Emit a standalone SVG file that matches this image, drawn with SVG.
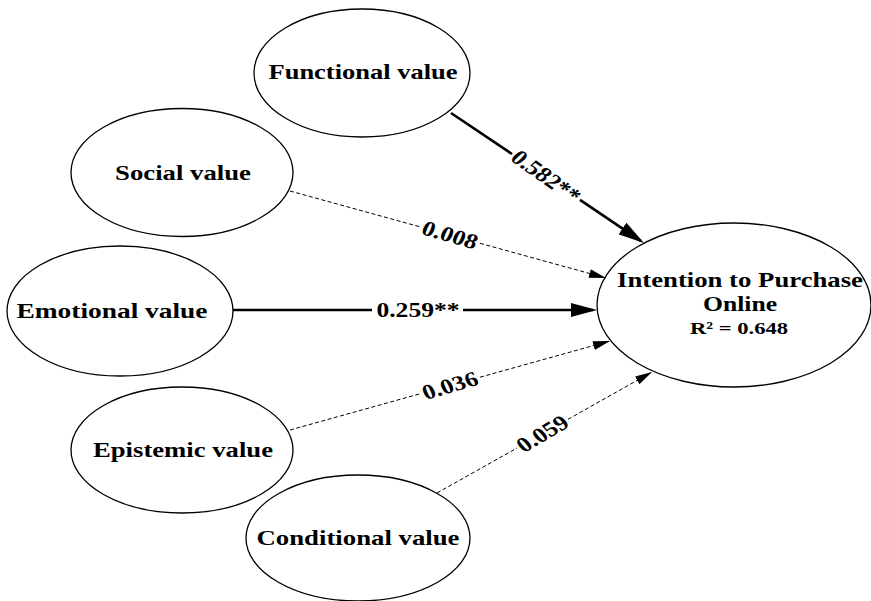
<svg xmlns="http://www.w3.org/2000/svg" width="871" height="601" viewBox="0 0 871 601">
  <style>
    .node ellipse { fill: #fff; stroke: #000; stroke-width: 1.3; }
    .node text { font-family: "Liberation Serif", "Times New Roman", serif; font-weight: bold; font-size: 21px; text-anchor: middle; fill: #000; }
    .strong { stroke: #000; stroke-width: 2.6; fill: none; }
    .weak { stroke: #000; stroke-width: 1; stroke-dasharray: 4 2.5; fill: none; }
    .lbl { font-family: "Liberation Serif", "Times New Roman", serif; font-weight: bold; font-size: 21px; text-anchor: middle; fill: #000; }
  </style>
  <defs>
    <marker id="arrowStrong" markerUnits="userSpaceOnUse" markerWidth="26" markerHeight="14" refX="22" refY="7" orient="auto">
      <path d="M0,0 L26,7 L0,14 z" fill="#000"/>
    </marker>
    <marker id="arrowWeak" markerUnits="userSpaceOnUse" markerWidth="17" markerHeight="10" refX="17" refY="5" orient="auto">
      <path d="M0,0.5 L17,5 L0,9.5 z" fill="#000"/>
    </marker>
  </defs>
  <rect width="871" height="601" fill="#fff"/>

  <g id="functional" class="node">
    <ellipse cx="362" cy="73" rx="108" ry="64"/>
    <text x="363" y="79" textLength="189" lengthAdjust="spacingAndGlyphs">Functional value</text>
  </g>
  <g id="social" class="node">
    <ellipse cx="182" cy="172.5" rx="111" ry="64"/>
    <text x="183" y="179.5" textLength="136" lengthAdjust="spacingAndGlyphs">Social value</text>
  </g>
  <g id="emotional" class="node">
    <ellipse cx="120" cy="311" rx="113" ry="65"/>
    <text x="112" y="318" textLength="191" lengthAdjust="spacingAndGlyphs">Emotional value</text>
  </g>
  <g id="epistemic" class="node">
    <ellipse cx="182" cy="450" rx="111" ry="63"/>
    <text x="183" y="456.5" textLength="180" lengthAdjust="spacingAndGlyphs">Epistemic value</text>
  </g>
  <g id="conditional" class="node">
    <ellipse cx="358" cy="538" rx="112" ry="63"/>
    <text x="358" y="545" textLength="203" lengthAdjust="spacingAndGlyphs">Conditional value</text>
  </g>
  <g id="intention" class="node">
    <ellipse cx="734" cy="305" rx="137" ry="82"/>
    <text x="740" y="287" textLength="246" lengthAdjust="spacingAndGlyphs">Intention to Purchase</text>
    <text x="740" y="311" textLength="74" lengthAdjust="spacingAndGlyphs">Online</text>
    <text x="739" y="334" style="font-size:17px" textLength="98" lengthAdjust="spacingAndGlyphs">R² = 0.648</text>
  </g>

  <g id="connectors">
    <path class="strong" d="M451,113 L512,154"/>
    <path class="strong" d="M580,199.9 L640.7,240.8" marker-end="url(#arrowStrong)"/>
    <text class="lbl" transform="translate(546,176.5) scale(1.22,1) rotate(40.8)" dy="0.33em">0.582**</text>

    <path class="weak" d="M290,191 L420,226.8"/>
    <path class="weak" d="M480,243.3 L606,278" marker-end="url(#arrowWeak)"/>
    <text class="lbl" transform="translate(450,235) scale(1.22,1) rotate(19.4)" dy="0.33em">0.008</text>

    <path class="strong" d="M233,310 L372,310"/>
    <path class="strong" d="M463,310 L593,310" marker-end="url(#arrowStrong)"/>
    <text class="lbl" transform="translate(418,310) scale(1.22,1)" dy="0.33em">0.259**</text>

    <path class="weak" d="M290,430 L420,393.8"/>
    <path class="weak" d="M480,377.2 L610,341" marker-end="url(#arrowWeak)"/>
    <text class="lbl" transform="translate(450,385.5) scale(1.22,1) rotate(-19.6)" dy="0.33em">0.036</text>

    <path class="weak" d="M437,493 L517,448"/>
    <path class="weak" d="M568,419.3 L652,372" marker-end="url(#arrowWeak)"/>
    <text class="lbl" transform="translate(542.5,433.7) scale(1.22,1) rotate(-35.8)" dy="0.33em">0.059</text>
  </g>
</svg>
